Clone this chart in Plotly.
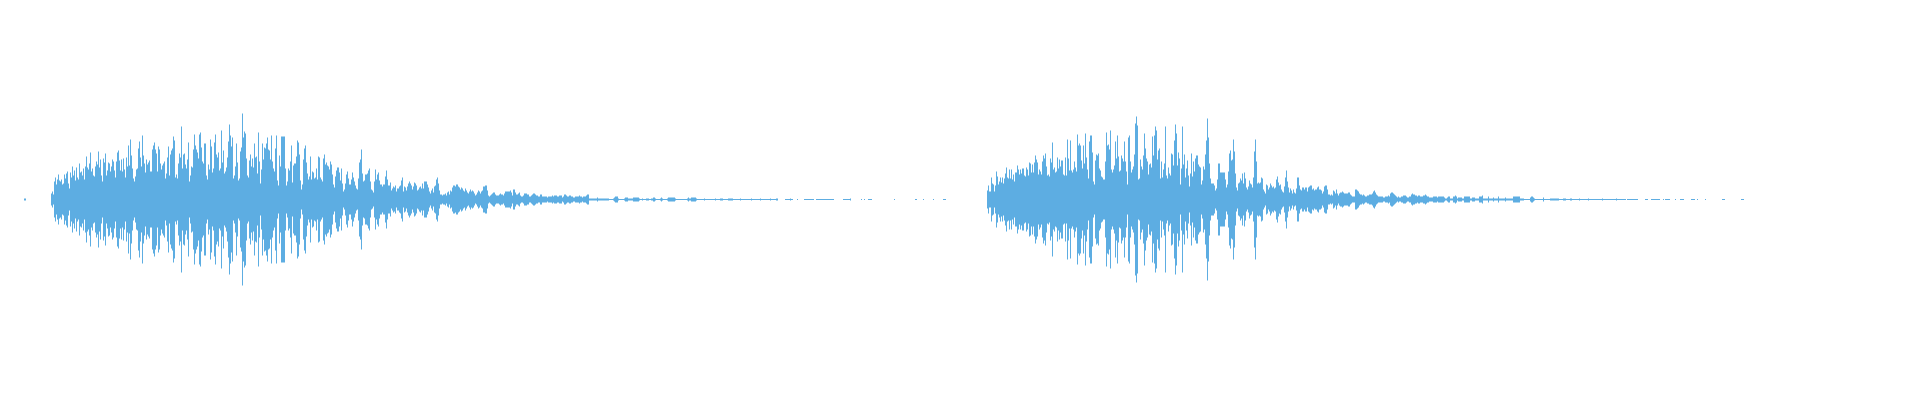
import numpy as np
import plotly.graph_objects as go

T = 0.45  # faint level, about one pixel of ink
COLOR = "#5DADE2"

CLICK = [1, 1]  # samples 24..25
A_051 = [6,8,5,18,22,15,20,25,19,18,20,15,16,25,21,26,28,16,11,27,22,33,24,29,19,32,22,20,36,27,28,24,31,20,33,43,32,30,36,47,28,31,24,23,33,38,35,48,32,40,24,18,41,37,46,24,29,37,36,28,33,40,38,29,22,38,47,49,39,29,40,28,41,30,22,42,33,54,34,60,44,31,21,18,23,30,31,51,58,42,33,64,44,36,27,40,35,37,39,28,28,50,54,57,50,46,28,53,50,36,30,34,36,38]
A_165 = [21,26,42,53,24,45,49,51,63,59,22,25,21,36,46,42,73,31,45,46,35,31,40,57,18,24,33,32,50,65,54,50,47,41,65,67,52,38,36,56,56,24,20,35,30,60,53,27,31,57,65,45,42,47,29,31,69,37,49,26,28,32,42,58,75,64,53,62,21,24,33,56,37,19,21,48,52,86,62,68,66,41,24,22,39,45,33,41,32,56,42,43,26,67,38,16,30,56,40,52,51,56,62,50,49,40,64,38,31,28,51,64,19,14,44,33,63,63,63,63]
A_285 = [31,14,18,31,29,38,54,17,34,36,36,43,59,57,45,19,10,15,40,51,54,37,26,20,23,43,20,28,27,21,22,31,20,43,42,22,20,18,41,45,35,37,34,33,30,38,35,25,15,12,23,29,32,32,27,19,31,16,8,10,16,25,28,21,15,15,20,27,22,18,14,11,10,21,37,40,50,26,18,19,25,25,26,29,31,18,10,9,7,18,30,20,25,27,19,15,15,13,15,15,23,29,20,14,14,17,9,11,13,12,14,8,11,11,13,14,19,22,8,13]
A_405 = [12,9,13,16,18,16,14,10,13,17,16,14,9,10,12,13,11,16,11,18,18,18,15,12,8,6,9,11,7,13,14,20,22,16,9,5,5,4,5,5,6,4,7,8,5,9,8,12,14,14,13,15,15,13,12,10,12,11,9,8,11,9,7,6,8,10,8,9,8,6,4,5,7,9,8]
A_480 = [6,8,9,13,13,14,14,9,4,3,4,5,6,7,7,5,4,4,4,5,6,5,5,4,6,8,8,8,8,8,9,7,4,10,10,7,5,5,6,7,4,3,3,4,6,6,6,5,5,3,3,4,5,6,6,5,4,4,3,3,5,5,3,3,3,3,3,2,3,3,3,3,4,3,4,4,4,3,3,4,4,4,2,3,5,5,4,3,3,4,4,3,3,2,2,3,3,3,3,4,3,3,2,3,3,3,4,5,5,1,1,1,1,1,1,1,1,2,1,1]
A_600 = [1,1,1,1,1,1,1,1,1,T, T,T,T,1,2,3,3,3,1,T, T,T,T,T,1,2,2,2,1,1, 1,1,1,2,2,2,2,2,2,1,
         T,T,1,T,T,T,1,1,1,T, T,1,1,2,2,1,T,T,T,T, 1,2,1,T,T,T,T,1,2,2, 2,2,2,2,2,1,T,T,T,T,
         T,T,T,T,T,T,T,1,2,1, 1,2,2,2,2,2,1,T,T,T, T,T,T,T,1,T,T,T,T,T, T,T,T,T,T,1,T,T,T,T,
         1,1,1,T,T,T,T,T,1,1, 1,1,1,T,T,T,T,T,T,T, 1,T,T,T,T,T,T,T,T,T, T,1,T,T,T,T,T,T,T,T,
         1,T,T,T,T,T,T,T,T,T, 1,T,T,T,T,T,1,1]
A_778 = [0,0,0,0,0,0,0,T,T,T, T,T,1,T,T,0,0,0,0,T, 0,0,0,0,0,0,T,T,T,T, T,T,T,T,T,T,0,0,T,T,
         T,T,T,T,T,T,T,T,T,T, T,T,T,T,T,T,0,0,0,0, 0,0,0,0,0,T,T,T,T,T, T,T,1,0,0,0,0,0,0,0,
         0,0,0,T,0,0,T,0,0,0, T,T,T,T,0,0,0,0,0,0, 0,0,0,0,0,0,0,0,0,0, 0,0,0,0,0,0,T,0,0,0,
         0,0,0,0,0,0,0,0,0,0, 0,0,0,0,0,0,0,T,T,0, 0,0,0,0,0,T,0,0,0,0, 0,0,0,0,0,T,0,0,0,0,
         0,0,0,0,0,T,T,T]

B_987 = [9,14,8,8,22,16,15,8,14,28,23,15,18,22,17,22,16,21,26,32,22,21,30,21,30,20,25,18,27,27,34,30,25,30,26,31,31,24,23,32,30,24,37,36,27,35,27,37,44,40,37,25,30,28,25,38,44,41,46,33,24,25,23,41,37,57,30,32,27,28,42,31,40,33,39,39,25,24,42,24,60,41,29,59,29,27,30,38,32,28,65,54,56,54,39,31,54,36,66,42,30,21,58,64,64,47,18,15,39,45,44,46,31,29,23,22,20,20]
B_105 = [38,67,54,55,50,69,30,27,30,34,58,41,64,43,28,29,44,41,38,58,38,28,15,62,64,38,27,30,33,45,76,83,74,20,21,40,33,30,44,66,51,41,38,25,35,36,32,63,44,64,73,69,40,49,51,21,38,22,30,36,73,24,21,32,26,24,46,45,34,59,75,66,34,47,41,15,31,73,35,45,22,31,39,24,13,26,46,23,38,28,41,44,44,35,33,32,15,19,33,30,45,59,81,62,36,21,16,16,16,14,9,11,20,36,36,27,27,27,27,27]
B_225 = [20,12,15,28,46,49,39,40,60,48,26,12,9,16,17,21,19,26,16,27,21,12,10,13,19,16,15,12,22,48,60,38,16,17,16,17,22,21,10,8,6,15,14,10,12,16,14,12,13,11,12,20,23,17,14,15,10,8,7,13,22,29,18,12,7,11,9,6,10,7,6,11,22,22,14,10,9,12,12,10,12,12,8,12,13,14,14,10,11,9,10,10,12,13,10,10,9,6,8,13,14,14,10,5,5,4,5,4,9,8,6,10,6,4,6,7,7,8,7,6]
B_345 = [6,6,6,7,7,5,4,3,3,3,10,10,9,8,6,5,5,4,5,4,3,3,4,4,5,5,5,6,8,9,7,5,4,3,3,3,3,3,2,2,3,3,3,4,3,6,7,7,6,5,4,3,2,3,2,2,3,3,4,4,4,3,2,2,3,3,5,6,5,5,4,4,3,4,4,3,3,3,4,4,5,4,3,3,2,2,2,2,3,3,3,3,2,3,3]
B_440 = [3,3,3,3,2,1,1,2,3,3,1,1,1,3,3,4,3,1,2,2,2,2,1,1,3,3,3,3,3,3,1,1,2,2,2,1,1,1,1,3,3,3,4,1,1,1,1,1,3,1,1,1,1,2,1,1,1,1,3,1,1,1,1,1,1,2,1,1,1,1,1,1,1,3,3,3,3,3,3,3,1,1,1,1,T,T,T,T,T,T,2,3,3,2,1,T,T,T,T,T,T,T,T,2,T,T,T,T,T,T,1,1,1,1,1,1,T]
B_557 = [T,T,T,T,T,T,T,T,1,1,1,T,T,T,T,1,1,1,T,T,T,T,1,1,T,T,T,T,T,T,T,1,T,T,T,T,T,T,T,T,1,T,T,T,T,T,T,T,T,T,T,T,T,T,1,T,T,T,T,T,T,T,T,T,T,T,T,T,1,T,T,T,T,T,T,T,T,T,0,T,T,T,T,T,T,T,T,T,T,T]
B_647 = [T,T,T,0,0,0,T,T,T,T,T,T,T,T,T,0,0,0,T,0,T,T,T,T,T,0,0,0,0,0,T,0,0,0,0,T,T,T,T,0,0,0,0,0,0,0,T,T,T,T,0,0,T,0,0,0,0,0,0,0,T,0,0,0,0,0,0,0,0,0,0,0,0,0,0,0,0,T,T,T,0,0,0,0,0,0,0,0,0,0,0,0,0,0,0,0,T,T,T]

SEGMENTS = [(24, CLICK), (51, A_051), (165, A_165), (285, A_285), (405, A_405), (480, A_480),
            (600, A_600), (778, A_778), (987, B_987), (1105, B_105), (1225, B_225),
            (1345, B_345), (1440, B_440), (1548, B_557), (1645, B_647)]

xs, amps = [], []
for start, values in SEGMENTS:
    for i, a in enumerate(values):
        if a > 0:
            xs.append(start + i + 0.5)
            amps.append(a)
xs = np.array(xs)
amps = np.array(amps, dtype=float)

fig = go.Figure(go.Bar(x=xs, y=2 * amps, base=-amps, width=0.98,
                       marker=dict(color=COLOR, line=dict(width=0)), hoverinfo="skip"))
fig.update_layout(width=1920, height=400, margin=dict(l=0, r=0, t=0, b=0),
                  paper_bgcolor="white", plot_bgcolor="white", showlegend=False,
                  xaxis=dict(range=[8, 1928], visible=False),
                  yaxis=dict(range=[-208.48, 191.52], visible=False))
fig.write_html("out.html")
